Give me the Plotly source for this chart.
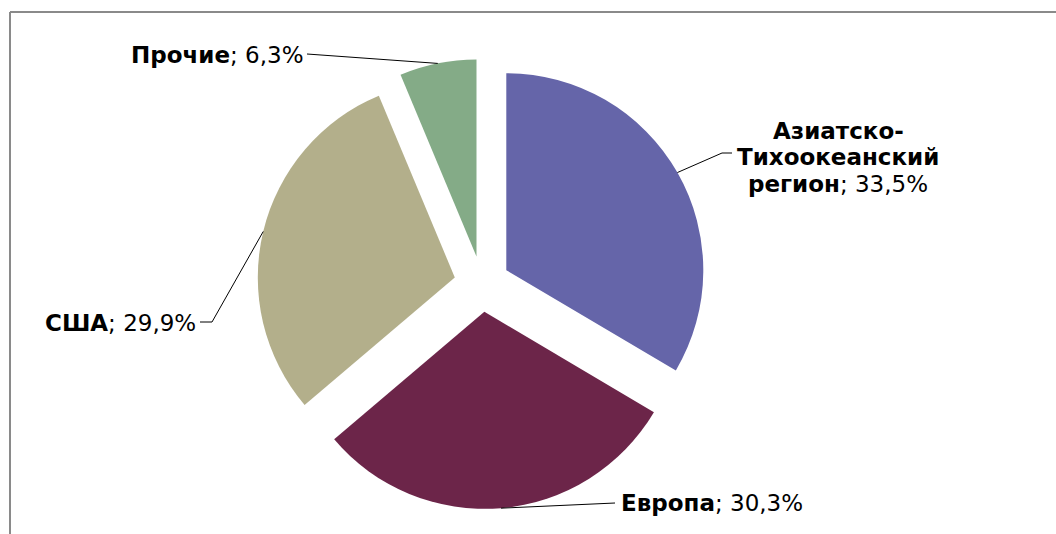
import plotly.graph_objects as go
import math

# Market shares by region, %
regions = ["Азиатско-Тихоокеанский регион", "Европа", "США", "Прочие"]
shares = [33.5, 30.3, 29.9, 6.3]
colors = ["#6565a9", "#6c2549", "#b3af8b", "#84ab87"]

W, H = 1056, 534
CX, CY = 482, 284      # pie centre, px
R = 197                # pie radius, px
PULL = 0.142           # explosion, fraction of radius

half = R * (1 + PULL)
domain_x = [(CX - half) / W, (CX + half) / W]
domain_y = [1 - (CY + half) / H, 1 - (CY - half) / H]


def px(x, y):
    return x / W, 1 - y / H


# rim point at each slice's mid-angle (clockwise from 12 o'clock)
total = sum(shares)
rim = []
acc = 0.0
for v in shares:
    mid = (acc + v / 2) / total * 2 * math.pi
    acc += v
    ox = CX + R * PULL * math.sin(mid)
    oy = CY - R * PULL * math.cos(mid)
    rim.append((ox + R * math.sin(mid), oy - R * math.cos(mid)))


def pct(v):
    return f"{v:.1f}".replace(".", ",") + "%"


fig = go.Figure(go.Pie(
    labels=regions,
    values=shares,
    sort=False,
    direction="clockwise",
    rotation=0,
    pull=[PULL] * len(shares),
    marker=dict(colors=colors, line=dict(width=0)),
    textinfo="none",
    hoverinfo="label+percent",
    showlegend=False,
    domain=dict(x=domain_x, y=domain_y),
))

font = dict(family="DejaVu Sans", size=23, color="#000000")

# label lines (text, x, y, xanchor) and leader-line elbows, px
label_specs = [
    ([("<b>Азиатско-</b>", 838, 131, "center"),
      ("<b>Тихоокеанский</b>", 838, 157, "center"),
      ("<b>регион</b>; " + pct(shares[0]), 838, 184, "center")],
     [(722, 153), (732, 153)]),
    ([("<b>Европа</b>; " + pct(shares[1]), 619, 503, "left")], [(615, 503)]),
    ([("<b>США</b>; " + pct(shares[2]), 198, 323, "right")], [(212, 322), (200, 322)]),
    ([("<b>Прочие</b>; " + pct(shares[3]), 306, 55, "right")], [(307, 54)]),
]

annotations = []
shapes = []
for (lines, path), (rx, ry) in zip(label_specs, rim):
    for text, lx, ly, anchor in lines:
        x, y = px(lx, ly)
        annotations.append(dict(
            text=text, x=x, y=y, xref="paper", yref="paper",
            xanchor=anchor, yanchor="middle", showarrow=False,
            align="center", font=font,
        ))
    pts = [(rx, ry)] + path
    d = "M " + " L ".join(f"{px(a, b)[0]},{px(a, b)[1]}" for a, b in pts)
    shapes.append(dict(type="path", path=d, xref="paper", yref="paper",
                       line=dict(color="#000000", width=1)))

# chart-area frame (top and left edges)
fx, fy = px(10, 12)
shapes.append(dict(type="line", xref="paper", yref="paper",
                   x0=fx, y0=fy, x1=1, y1=fy,
                   line=dict(color="#8a8a8a", width=2)))
shapes.append(dict(type="line", xref="paper", yref="paper",
                   x0=fx, y0=fy, x1=fx, y1=0,
                   line=dict(color="#8a8a8a", width=2)))

fig.update_layout(
    width=W, height=H, autosize=False,
    margin=dict(l=0, r=0, t=0, b=0),
    paper_bgcolor="#ffffff", plot_bgcolor="#ffffff",
    annotations=annotations, shapes=shapes,
)

fig.write_html("out.html")
